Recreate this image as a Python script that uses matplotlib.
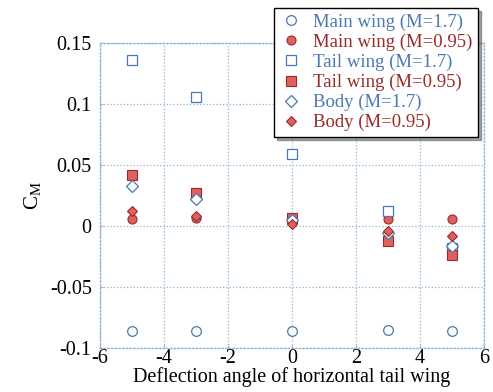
import numpy as np
import matplotlib.pyplot as plt

plt.rcParams['font.family'] = ['Liberation Serif', 'DejaVu Serif']

angle = [-5, -3, 0, 3, 5]
main_17 = [-0.086, -0.086, -0.086, -0.085, -0.086]
main_095 = [0.006, 0.0065, 0.004, 0.0055, 0.006]
tail_17 = [0.136, 0.106, 0.059, 0.012, -0.018]
tail_095 = [0.0415, 0.027, 0.0065, -0.012, -0.024]
body_17 = [0.033, 0.022, 0.005, -0.006, -0.016]
body_095 = [0.012, 0.008, 0.002, -0.004, -0.008]

blue = '#4a78b5'
red_face = '#e06060'
red_edge = '#9a2a2a'
grid_c = '#8fb3d9'

fig = plt.figure(figsize=(4.93, 3.92), dpi=100)
ax = fig.add_axes([0.203, 0.112, 0.779, 0.778])

open_kw = dict(linestyle='none', markerfacecolor='white', markeredgecolor=blue, markeredgewidth=0.9, markersize=7)
fill_kw = dict(linestyle='none', markerfacecolor=red_face, markeredgecolor=red_edge, markeredgewidth=0.8, markersize=6.5)

ax.plot(angle, main_17, 'o', label='Main wing (M=1.7)', **open_kw)
ax.plot(angle, main_095, 'o', label='Main wing (M=0.95)', **fill_kw)
ax.plot(angle, tail_17, 's', label='Tail wing (M=1.7)', **open_kw)
ax.plot(angle, tail_095, 's', label='Tail wing (M=0.95)', **fill_kw)
ax.plot(angle, body_17, 'D', label='Body (M=1.7)', **dict(open_kw, markersize=6))
ax.plot(angle, body_095, 'D', label='Body (M=0.95)', **dict(fill_kw, markersize=5.5))

ax.set_xlim(-6, 6)
ax.set_ylim(-0.1, 0.15)
ax.set_xticks(np.arange(-6, 7, 2))
ax.set_yticks([-0.1, -0.05, 0, 0.05, 0.1, 0.15])
ax.set_yticklabels(['-0.1', '-0.05', '0', '0.05', '0.1', '0.15'])
ax.set_xticklabels(['-6', '-4', '-2', '0', '2', '4', '6'])
ax.tick_params(labelsize=14.5, direction='in', length=2, color=grid_c)
ax.tick_params(axis='x', pad=1)
ax.tick_params(axis='y', pad=6)
ax.grid(True, linestyle=':', color=grid_c, linewidth=0.9)
for s in ax.spines.values():
    s.set_linestyle(':')
    s.set_color(grid_c)
    s.set_linewidth(1.0)

ax.set_xlabel('Deflection angle of horizontal tail wing', fontsize=14.5, labelpad=-1)
ax.set_ylabel('C$_\\mathregular{M}$', fontsize=15, labelpad=4)

leg = ax.legend(loc='upper right', bbox_to_anchor=(0.970, 0.98), bbox_transform=fig.transFigure,
                fontsize=13.5, frameon=True, fancybox=False, shadow=True, handletextpad=0.6,
                borderpad=0.3, labelspacing=0.15, handlelength=1.2, borderaxespad=0)
leg.get_frame().set_edgecolor('black')
leg.get_frame().set_linewidth(1.0)
for t, c in zip(leg.get_texts(), [blue, red_edge] * 3):
    t.set_color(c)

fig.savefig('out.png', dpi=100)
